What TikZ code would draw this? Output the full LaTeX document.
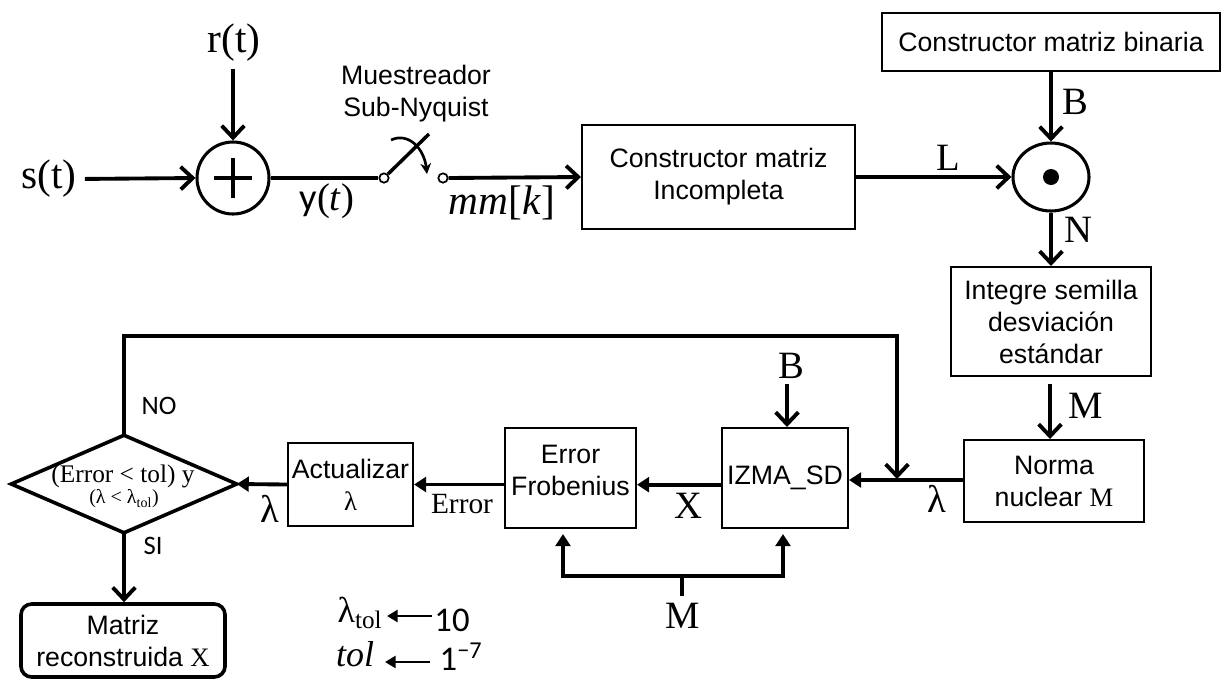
\documentclass[tikz,border=0pt]{standalone}
\usepackage{fontspec}
\setmainfont{Liberation Sans}
\newfontfamily\serf{Liberation Serif}
\newfontfamily\carl{Carlito}
\usetikzlibrary{arrows.meta,shapes.geometric}
\begin{document}
\begin{tikzpicture}[x=0.75pt,y=-0.75pt,
  blk/.style={draw, line width=1.5pt, inner sep=0pt, align=center, font=\fontsize{20}{24}\selectfont},
  sans/.style={inner sep=0pt, align=center, font=\fontsize{20}{24}\selectfont},
  wire/.style={line width=2.9pt},
  barb/.style={-{Straight Barb[length=9pt,width=17pt]}},
  tri/.style={-{Triangle[length=9pt,width=11pt]}},
  lab/.style={inner sep=0pt, font=\serf\fontsize{29}{31}\selectfont},
  big/.style={inner sep=0pt, font=\serf\fontsize{31}{33}\selectfont},
  cal/.style={inner sep=0pt, font=\carl\fontsize{20}{22}\selectfont},
]
\useasboundingbox (0,0) rectangle (1223,679);

% ---------- top row ----------
\node[big] (s) at (49,179) {s(t)};
\node[big] (r) at (234,43) {r(t)};
\node[draw, circle, line width=2.3pt, minimum size=54pt, inner sep=0pt] (sum) at (233,178) {};
\draw[line width=2.5pt] (sum.center) +(-19,0) -- +(19,0);
\draw[line width=2.5pt] (sum.center) +(0,-20) -- +(0,20);
\draw[wire,barb,shorten <=6pt] (s.east) -- (sum.west);
\draw[wire,barb,shorten <=5pt] (r.south -| sum.north) -- (sum.north);

\node[draw, circle, line width=1.3pt, fill=white, minimum size=7pt, inner sep=0pt] (c1) at (384,178) {};
\node[draw, circle, line width=1.3pt, fill=white, minimum size=7pt, inner sep=0pt] (c2) at (443,178) {};
\draw[wire] (sum.east) -- (c1.west);
\coordinate (blade) at (429,134);
\draw[line width=2.6pt] (c1.45) -- (blade);
\coordinate (sw1) at (391,140);
\coordinate (sw2) at (427,174);
\draw[line width=2pt, -{Stealth[length=8pt,width=8pt]}] (sw1) .. controls (408,132) and (424,148) .. (sw2);
\node[sans] (mue) at (416,94) {Muestreador\\Sub-Nyquist};
\node[inner sep=0pt, font=\fontsize{29}{31}\selectfont] (yt) at (327,201) {{\carl y}{\serf(\textit{t})}};
\node[inner sep=0pt, font=\serf\fontsize{31}{33}\selectfont] (mm) at (502,203) {\textit{mm}[\textit{k}]};

\node[blk, minimum width=204.75pt, minimum height=78pt] (inc) at (718.5,177) {Constructor matriz\\Incompleta};
\draw[wire,barb] (c2.east) -- (inc.west);

\node[draw, ellipse, line width=2.3pt, minimum width=57pt, minimum height=51pt, inner sep=0pt] (odot) at (1051,177) {};
\fill (odot.center) circle[radius=6pt];
\draw[wire,barb] (inc.east) -- (odot.west);
\node[lab] (L) at (948,158) {L};

\node[blk, minimum width=253.5pt, minimum height=43.5pt] (bin) at (1051,42) {Constructor matriz binaria};
\draw[wire,barb] (bin.south) -- (odot.north);
\node[lab] (B1) at (1075,102) {B};

\node[blk, minimum width=150pt, minimum height=81.75pt] (int) at (1051,321.5) {Integre semilla\\desviación\\estándar};
\draw[wire,barb] (odot.south) -- (int.north);
\node[lab] (N) at (1078,230) {N};

\node[blk, minimum width=135pt, minimum height=61.5pt] (nor) at (1054,481) {Norma\\nuclear {\serf M}};
\coordinate (mtop) at (1050,384);
\draw[wire,barb] (mtop) -- (mtop |- nor.north);
\node[lab] (M1) at (1086,406) {M};

% ---------- lower row ----------
\node[blk, minimum width=94.5pt, minimum height=75pt] (izma) at (785,478) {IZMA\_SD};
\coordinate (lamL) at (964,480);
\draw[wire,tri] (lamL) -- (lamL -| izma.east);
\node[lab] (lam1) at (937,499) {λ};

\node[lab] (B2) at (791,366) {B};
\coordinate (b2s) at (787,384);
\draw[wire,barb] (b2s) -- (b2s |- izma.north);

\node[blk, minimum width=98.25pt, minimum height=75pt] (frob) at (570.5,478) {};
\node[sans] (frobt) at (570.5,470) {Error\\Frobenius};
\draw[wire,tri] ([yshift=-5pt]izma.west) -- ([yshift=-5pt]frob.east);
\node[lab] (X) at (688,506) {X};

\node[blk, minimum width=93.75pt, minimum height=62.25pt] (act) at (350.5,484.5) {Actualizar\\{\serf λ}};
\draw[wire,tri] (act.east -| frob.west) -- (act.east);
\node[inner sep=0pt, font=\serf\fontsize{22}{24}\selectfont] (err) at (462,504) {Error};

\node[minimum width=168.75pt, minimum height=72.75pt, inner sep=0pt] (dia) at (124,484) {};
\draw[line width=2.7pt, line join=miter] (dia.west) -- (dia.north) -- (dia.east) -- (dia.south) -- cycle;
\node[inner sep=0pt, font=\serf\fontsize{19}{22}\selectfont] (dt1) at (123,476) {(Error < tol) y};
\node[inner sep=0pt, font=\serf\fontsize{15}{18}\selectfont] (dt2) at (124,499) {(λ < λ\textsubscript{tol})};
\draw[wire,tri] (act.west) -- (dia.east);
\node[lab] (lam2) at (270,509) {λ};

% feedback
\coordinate (fbR) at (897,336);
\coordinate (fbJ) at (897,479);
\draw[wire,barb] (dia.north) |- (fbR) -- (fbJ);
\node[cal] (no) at (159,406) {NO};

\node[blk, line width=2.7pt, rounded corners=8pt, minimum width=153pt, minimum height=54.75pt] (mat) at (123,640.5) {Matriz\\reconstruida {\serf X}};
\draw[wire,barb] (dia.south) -- (dia.south |- mat.north);
\node[cal] (si) at (153,546) {SI};

% M distribution
\coordinate (mj) at (682,576);
\coordinate (fT) at (563,534);
\coordinate (iT) at (783,534);
\coordinate (mb) at (682,596);
\draw[wire,tri] (mj) -| (fT);
\draw[wire,tri] (mj) -| (iT);
\draw[wire] (mj) -- (mb);
\node[lab] (M2) at (683,616) {M};

% parameters
\node[inner sep=0pt, font=\serf\fontsize{27}{29}\selectfont] (lt) at (360,613) {λ\textsubscript{tol}};
\node[inner sep=0pt, font=\carl\fontsize{26}{28}\selectfont] (ten) at (452,620) {10};
\coordinate (ltA) at (432,616);
\coordinate (ltB) at (387,616);
\draw[line width=2.2pt, -{Triangle[length=8pt,width=9pt]}] (ltA) -- (ltB);
\node[inner sep=0pt, font=\serf\itshape\fontsize{27}{29}\selectfont] (tol) at (355,654) {tol};
\node[inner sep=0pt, font=\carl\fontsize{26}{28}\selectfont] (one) at (461,657) {1\textsuperscript{−7}};
\coordinate (tolA) at (430,662);
\coordinate (tolB) at (385,662);
\draw[line width=2.2pt, -{Triangle[length=8pt,width=9pt]}] (tolA) -- (tolB);
\end{tikzpicture}
\end{document}
